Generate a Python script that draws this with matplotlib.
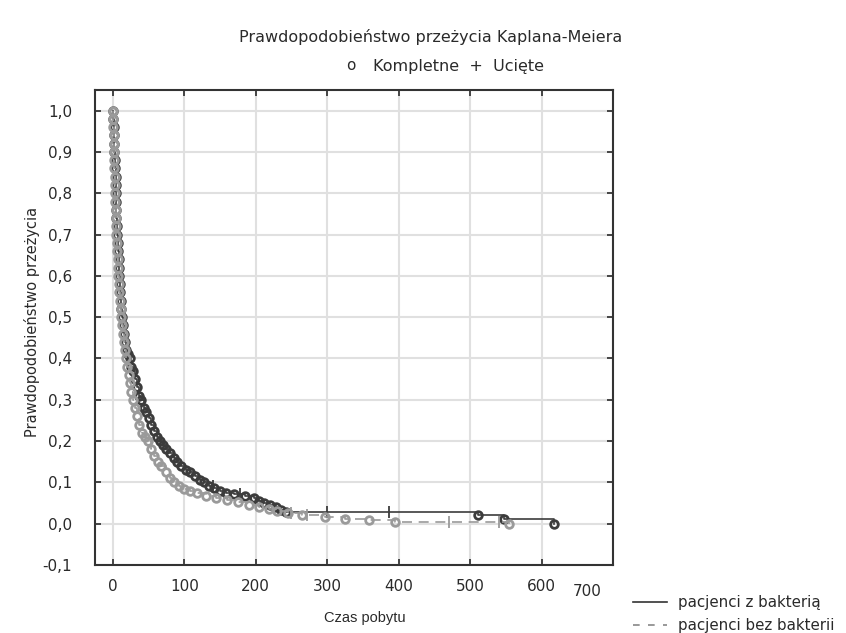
import numpy as np
import matplotlib
matplotlib.use("Agg")
import matplotlib.pyplot as plt
from matplotlib.lines import Line2D

plt.rcParams['font.family'] = ['Liberation Sans', 'DejaVu Sans']

# pacjenci z bakteria (czas, przezycie)
dark_t = [0, 0.5, 1, 1, 2, 2, 3, 3, 4, 4, 4, 5, 5, 5, 6, 6, 7, 7, 8, 8, 9, 10, 10, 11,
          12, 13, 14, 16, 17, 19, 21, 24, 26, 28, 31, 34, 37, 40, 43, 47, 50, 54, 58,
          62, 66, 70, 75, 80, 85, 90, 96, 102, 108, 115, 122, 128, 135, 142, 150, 158,
          170, 185, 198, 205, 212, 220, 228, 235, 242, 511, 547, 618]
dark_s = [1.0, 0.98, 0.96, 0.94, 0.92, 0.90, 0.88, 0.86, 0.84, 0.82, 0.80, 0.78, 0.76,
          0.74, 0.72, 0.70, 0.68, 0.66, 0.64, 0.62, 0.60, 0.58, 0.56, 0.54, 0.52, 0.50,
          0.48, 0.46, 0.44, 0.42, 0.41, 0.40, 0.38, 0.37, 0.35, 0.33, 0.31, 0.30, 0.28,
          0.27, 0.255, 0.24, 0.225, 0.21, 0.20, 0.19, 0.18, 0.17, 0.16, 0.15, 0.14, 0.13,
          0.125, 0.115, 0.105, 0.10, 0.092, 0.086, 0.08, 0.075, 0.072, 0.068, 0.062,
          0.055, 0.05, 0.045, 0.04, 0.034, 0.028, 0.020, 0.011, 0.0]
dark_cens = [140, 178, 300, 386]

# pacjenci bez bakterii
light_t = [0, 0, 0.5, 1, 1, 1.5, 2, 2, 2.5, 3, 3, 3.5, 4, 4, 4.5, 5, 5.5, 6, 6.5, 7, 7.5,
           8, 9, 10, 11, 12, 13, 14, 15, 17, 19, 20, 22, 24, 26, 28, 31, 34, 37, 41, 45,
           49, 54, 58, 63, 68, 74, 80, 86, 93, 100, 108, 118, 130, 145, 160, 175, 190,
           205, 218, 230, 245, 265, 297, 325, 358, 395, 555]
light_s = [1.0, 0.98, 0.96, 0.94, 0.92, 0.90, 0.88, 0.86, 0.84, 0.82, 0.80, 0.78, 0.76,
           0.74, 0.72, 0.70, 0.68, 0.66, 0.64, 0.62, 0.60, 0.58, 0.56, 0.54, 0.52, 0.50,
           0.48, 0.46, 0.44, 0.42, 0.40, 0.38, 0.36, 0.34, 0.32, 0.30, 0.28, 0.26, 0.24,
           0.22, 0.21, 0.20, 0.18, 0.165, 0.15, 0.14, 0.125, 0.11, 0.10, 0.092, 0.085,
           0.08, 0.074, 0.068, 0.063, 0.058, 0.052, 0.046, 0.04, 0.035, 0.03, 0.025,
           0.02, 0.016, 0.012, 0.008, 0.005, 0.0]
light_cens = [250, 272, 470, 540]

x_ticks = [0, 100, 200, 300, 400, 500, 600, 700]
y_ticks = [-0.1, 0.0, 0.1, 0.2, 0.3, 0.4, 0.5, 0.6, 0.7, 0.8, 0.9, 1.0]
y_labels = ['-0,1', '0,0', '0,1', '0,2', '0,3', '0,4', '0,5', '0,6', '0,7', '0,8', '0,9', '1,0']

dark_c = '#3c3c3c'
light_c = '#9a9a9a'
txt_c = '#2a2a2a'
wide = ['DejaVu Sans']

fig = plt.figure(figsize=(8.46, 6.33), dpi=100)
ax = fig.add_axes([95 / 846, 1 - 565 / 633, 518 / 846, 475 / 633])


def step_at(ts, ss, t):
    i = np.searchsorted(ts, t, side='right') - 1
    return ss[i]


ax.plot(dark_t, dark_s, drawstyle='steps-post', color=dark_c, lw=1.2, zorder=3)
ax.plot(dark_t, dark_s, 'o', ms=5.5, mfc='none', mec=dark_c, mew=2.0, zorder=3)
ax.plot(dark_cens, [step_at(dark_t, dark_s, t) for t in dark_cens], '|', ms=8,
        mec=dark_c, mew=1.3, zorder=3)

ax.plot(light_t, light_s, drawstyle='steps-post', color=light_c, lw=1.2,
        dashes=(6, 4), zorder=4)
ax.plot(light_t, light_s, 'o', ms=5.5, mfc='none', mec=light_c, mew=2.0, zorder=4)
ax.plot(light_cens, [step_at(light_t, light_s, t) for t in light_cens], '|', ms=8,
        mec=light_c, mew=1.3, zorder=4)

ax.set_xlim(-25, 700)
ax.set_ylim(-0.1, 1.05)
ax.set_xticks(x_ticks)
ax.set_xticklabels([str(v) if v != 700 else '' for v in x_ticks])
ax.set_yticks(y_ticks)
ax.set_yticklabels(y_labels)
ax.grid(True, color='#e0e0e0', lw=1.5)
ax.set_axisbelow(True)
ax.tick_params(direction='in', length=4, width=1.2, top=True, right=True,
               labelsize=11, colors=txt_c, pad=16.5)
ax.tick_params(axis='x', pad=10)
for lab in ax.get_xticklabels() + ax.get_yticklabels():
    lab.set_family(wide)
ax.text(684, -0.163, '700', ha='right', va='center', fontsize=11, color=txt_c,
        family=wide)
for sp in ax.spines.values():
    sp.set_linewidth(1.5)
    sp.set_color('#333333')

fig.text(365 / 846, 1 - 618 / 633, 'Czas pobytu', ha='center', va='center',
         fontsize=10.5, color=txt_c)
fig.text(32 / 846, 1 - 322 / 633, 'Prawdopodobieństwo przeżycia', rotation=90,
         ha='center', va='center', fontsize=10.5, color=txt_c, family=wide)

fig.text(431 / 846, 1 - 37 / 633, 'Prawdopodobieństwo przeżycia Kaplana-Meiera',
         ha='center', va='center', fontsize=11.5, color=txt_c, family=wide)
fig.text(458 / 846, 1 - 66 / 633, 'Kompletne  +  Ucięte',
         ha='center', va='center', fontsize=11.5, color=txt_c, family=wide)
fig.text(351 / 846, 1 - 66 / 633, 'o', ha='center', va='center',
         fontsize=11, color=txt_c, family=wide)

handles = [Line2D([], [], color='#333333', lw=1.2),
           Line2D([], [], color='#888888', lw=1.2, dashes=(4, 5))]
fig.legend(handles, ['pacjenci z bakterią', 'pacjenci bez bakterii'],
           loc='upper left', bbox_to_anchor=(625 / 846, 1 - 588 / 633),
           frameon=False, handlelength=2.3, labelspacing=0.5,
           handletextpad=0.7, labelcolor=txt_c, borderpad=0,
           prop={'family': wide, 'size': 10.8})

fig.savefig('out.png', dpi=100)
